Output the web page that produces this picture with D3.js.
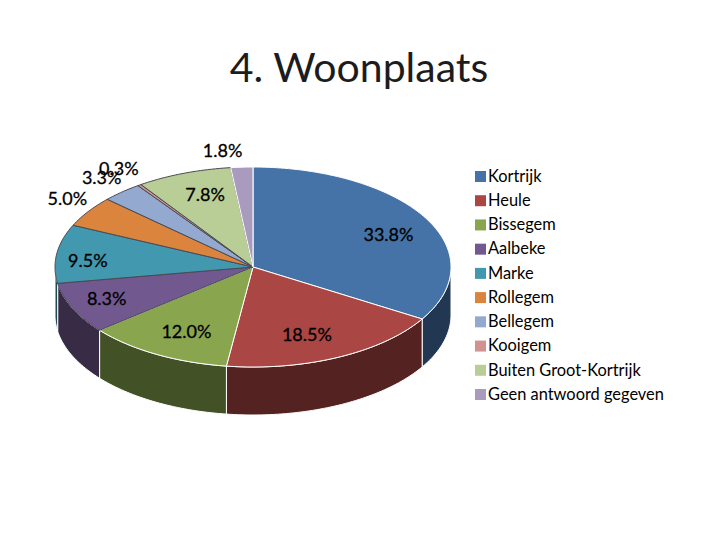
<!DOCTYPE html>
<html>
<head>
<meta charset="utf-8">
<script src="https://cdn.jsdelivr.net/npm/d3@7"></script>
<style>
html, body { margin: 0; padding: 0; background: #fff; }
text { font-family: Lato, "Open Sans", sans-serif; fill: #000; }
</style>
</head>
<body>
<div id="chart"></div>
<script>
var width = 720;
var height = 540;

var places = ["Kortrijk", "Heule", "Bissegem", "Aalbeke", "Marke", "Rollegem", "Bellegem", "Kooigem", "Buiten Groot-Kortrijk", "Geen antwoord gegeven"];
var percents = [33.8, 18.5, 12.0, 8.3, 9.5, 5.0, 3.3, 0.3, 7.8, 1.8];
var colors = ["#4573a7", "#aa4644", "#89a54e", "#71588f", "#4298af", "#db843d", "#93a9cf", "#d19392", "#b9cd96", "#a99bbd"];

// hand placed label nudges, the labels in the original do not follow a rule
var labelNudge = [[6, 4], [-10, 0], [6, -1], [-11, 1], [-18, 4], [-62, -27], [-53, -33], [-49, -37], [4, -2], [-22, -41]];

var cx = 253, cy = 267, rx = 198, ry = 100, depth = 48;

var svg = d3.select("#chart").append("svg")
    .attr("width", width)
    .attr("height", height);

svg.append("text")
    .attr("x", 359)
    .attr("y", 82)
    .attr("text-anchor", "middle")
    .style("font-size", "41px")
    .style("fill", "#1c1c1c")
    .text("4. Woonplaats");

var slices = d3.pie().sort(null)(percents);

// a pie angle (0 = top, clockwise) flattened onto the ellipse
function rim(a, r) {
    return [cx + rx * r * Math.sin(a), cy - ry * r * Math.cos(a)];
}

function arcPoints(a0, a1) {
    var n = Math.max(2, Math.ceil((a1 - a0) / 0.02));
    return d3.range(n + 1).map(function(i) { return rim(a0 + (a1 - a0) * i / n, 1); });
}

var line = d3.line();
var pie3d = svg.append("g");

// outer wall, only the part facing the viewer
slices.forEach(function(d, i) {
    var a0 = Math.max(d.startAngle, Math.PI / 2);
    var a1 = Math.min(d.endAngle, Math.PI * 3 / 2);
    if (a1 <= a0) return;
    var top = arcPoints(a0, a1);
    var bottom = top.map(function(p) { return [p[0], p[1] + depth]; }).reverse();
    pie3d.append("path")
        .attr("d", line(top.concat(bottom)) + "Z")
        .attr("fill", d3.rgb(colors[i]).darker(2))
        .attr("stroke", "#fff")
        .attr("stroke-width", 1);
});

// top face
slices.forEach(function(d, i) {
    var pts = [[cx, cy]].concat(arcPoints(d.startAngle, d.endAngle));
    pie3d.append("path")
        .attr("d", line(pts) + "Z")
        .attr("fill", colors[i])
        .attr("stroke", i < 3 || i == 9 ? "#fff" : "#4a4a55")
        .attr("stroke-width", 1)
        .attr("stroke-linejoin", "round");
});

// data labels
slices.forEach(function(d, i) {
    var p = rim((d.startAngle + d.endAngle) / 2, 0.75);
    svg.append("text")
        .attr("x", p[0] + labelNudge[i][0])
        .attr("y", p[1] + labelNudge[i][1])
        .attr("dy", "0.35em")
        .attr("text-anchor", "middle")
        .style("font-size", "18px")
        .style("stroke", "#000")
        .style("stroke-width", 0.3)
        .text(d3.format(".1f")(percents[i]) + "%");
});

// legend
var legendY = d3.scalePoint()
    .domain(places)
    .range([176, 394]);

var legend = svg.append("g");

legend.selectAll("rect")
    .data(places)
    .enter().append("rect")
    .attr("x", 475)
    .attr("y", function(d) { return legendY(d) - 5; })
    .attr("width", 11)
    .attr("height", 11)
    .attr("fill", function(d, i) { return colors[i]; });

legend.selectAll("text")
    .data(places)
    .enter().append("text")
    .attr("x", 488)
    .attr("y", function(d) { return legendY(d); })
    .attr("dy", "0.35em")
    .style("font-size", "16.4px")
    .text(function(d) { return d; });
</script>
</body>
</html>
